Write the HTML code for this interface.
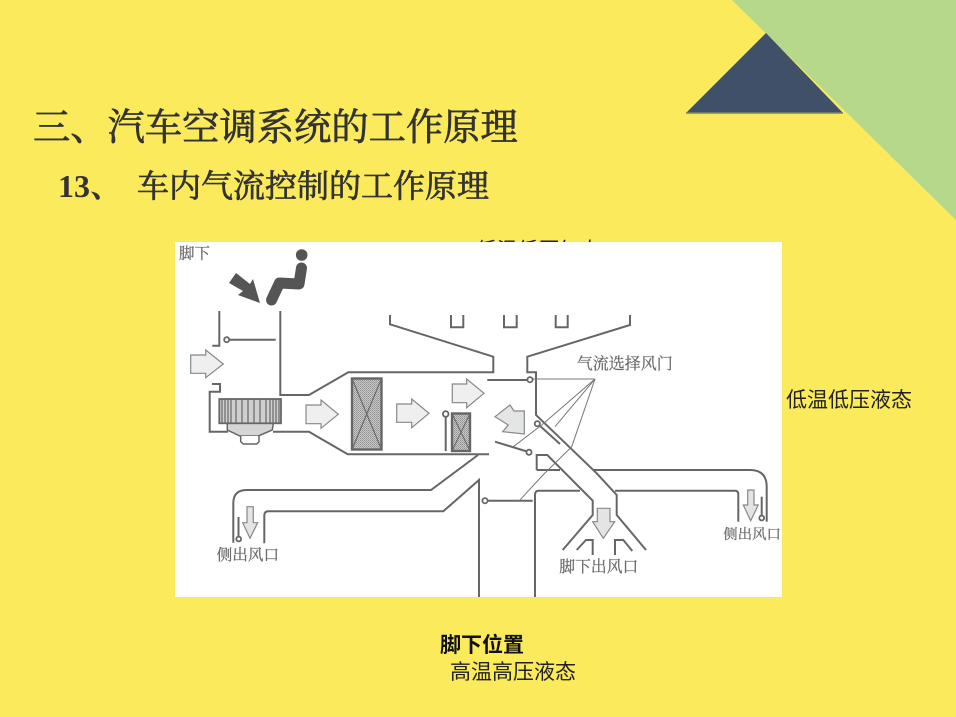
<!DOCTYPE html>
<html lang="zh">
<head>
<meta charset="utf-8">
<title>车内气流控制的工作原理</title>
<style>
html,body{margin:0;padding:0;background:#faea5c;}
#s{position:relative;width:956px;height:717px;overflow:hidden;background:#faea5c;}
svg{position:absolute;left:0;top:0;}
text{font-family:"Liberation Serif","Noto Serif CJK SC",serif;}
.t{font-weight:400;fill:#333;stroke:#333;stroke-width:.7px;}
.n{font-weight:700;fill:#333;}
.l{font-family:"Liberation Sans","Noto Sans CJK SC",sans-serif;font-size:21px;fill:#222;}
.d{font-size:16px;fill:#6a6a6a;stroke:#6a6a6a;stroke-width:.25px;}
</style>
</head>
<body>
<div id="s">
<svg width="956" height="717" viewBox="0 0 956 717" xmlns="http://www.w3.org/2000/svg">
<defs>
<pattern id="st" width="2" height="2" patternUnits="userSpaceOnUse">
<rect width="2" height="2" fill="#c8c8c8"/>
<rect width="1" height="1" fill="#929292"/>
<rect x="1" y="1" width="1" height="1" fill="#a2a2a2"/>
</pattern>
<filter id="b" x="0" y="0" width="100%" height="100%"><feGaussianBlur stdDeviation="0.35"/></filter>
</defs>
<polygon points="732,0 956,0 956,220" fill="#b5d88b"/>
<polygon points="766,33 843,113 686,113" fill="#415069"/>
<line x1="686" y1="113" x2="843" y2="113" stroke="#7d8268" stroke-width="1.4"/>

<text class="t" x="33" y="140" font-size="37.3">三、汽车空调系统的工作原理</text>
<text class="n" x="58" y="197" font-size="32">13、</text>
<text class="t" x="137" y="197" font-size="32">车内气流控制的工作原理</text>

<text class="l" x="476" y="257" style="font-size:20.7px">低温低压气态</text>
<text class="l" x="786" y="407">低温低压液态</text>
<text class="l" x="440" y="652" style="font-weight:700;fill:#111">脚下位置</text>
<text class="l" x="450" y="679">高温高压液态</text>

<rect x="175" y="242" width="607" height="355" fill="#fff"/>

<g filter="url(#b)">
<!-- duct walls -->
<g fill="none" stroke="#666" stroke-width="2">
<polyline points="219.3,311 219.3,345.7 212.3,345.7"/>
<line x1="229" y1="339.7" x2="275.7" y2="339.7"/>
<polyline points="280.3,311 280.3,395 309,395 348.3,372.3 493.3,372.3 493.3,356.7 390,324.3 390,315"/>
<polyline points="212,384 220,384 220,391.7 209.7,391.7 209.7,431.7 228,431.7"/>
<polyline points="273,431.7 309,431.7 347.7,454.3 489,454.3"/>
<path d="M478,455 L431,490 L246.7,490 Q233.3,490 233.3,503.3 L233.3,542.7"/>
<path d="M264.3,543.3 L264.3,516 Q264.3,511.3 268.3,511.3 L443.3,511.3 L479,480 L479,597"/>
<polyline points="487.3,380 527.5,380"/>
<polyline points="630,315 630,325 527.3,356.7 527.3,372.3 536,372.3 536,415 596.7,473.3 616.7,495 616.7,515 646,550"/>
<polyline points="536.7,470 536.7,455 547.3,455 592.7,500.7 592.7,515 562.7,550"/>
<line x1="536.7" y1="470" x2="560" y2="470"/>
<path d="M593.3,470 L750,470 Q766.7,470 766.7,487 L766.7,521.7"/>
<path d="M535,597 L535,495 Q535,490.7 538.3,490.7 L580,490.7"/>
<path d="M615,490.7 L735,490.7 Q738.3,490.7 738.3,494 L738.3,521.7"/>
<polyline points="576.7,550 586,540 592.7,540 592.7,555"/>
<polyline points="615,555 615,540 623.3,540 632.3,551"/>
<polyline points="451,315 451,327.3 463.3,327.3 463.3,315"/>
<polyline points="504,315 504,327.3 516.7,327.3 516.7,315"/>
<polyline points="555.7,315 555.7,327.3 567.7,327.3 567.7,315"/>
<line x1="495" y1="441.7" x2="527" y2="451.5"/>
<line x1="539" y1="425" x2="560" y2="444"/>
<line x1="487.5" y1="500.7" x2="532.7" y2="500.7"/>
<line x1="445.7" y1="417" x2="445.7" y2="451"/>
<line x1="238.5" y1="517" x2="238.5" y2="537"/>
<line x1="761.7" y1="496.7" x2="761.7" y2="516"/>
</g>
<!-- thin linkage lines -->
<g fill="none" stroke="#777" stroke-width="1">
<line x1="532" y1="379" x2="595" y2="379"/>
<polyline points="595,379 571.7,446.7 543,475 519.3,500.7"/>
<polyline points="595,379 541.7,425 513.3,446.7"/>
<polyline points="595,379 555,426.7"/>
</g>
<!-- pivots -->
<g fill="#fff" stroke="#666" stroke-width="1.8">
<circle cx="226.7" cy="339.7" r="2.5"/>
<circle cx="445.7" cy="414" r="2.8"/>
<circle cx="530" cy="379.7" r="2.6"/>
<circle cx="537.3" cy="423.7" r="2.6"/>
<circle cx="529" cy="452.3" r="2.6"/>
<circle cx="485" cy="500.7" r="2.6"/>
<circle cx="238.7" cy="539" r="2.4"/>
<circle cx="761.7" cy="518" r="2.4"/>
</g>
<!-- flow arrows -->
<g fill="#efefef" stroke="#888" stroke-width="1.2">
<polygon points="190.7,355 205.7,355 205.7,350 223.3,364 205.7,377.7 205.7,373.3 190.7,373.3"/>
<polygon points="306,405 321,405 321,400 338.3,414.3 321,428.3 321,423.7 306,423.7"/>
<polygon points="396.7,404 411.7,404 411.7,399 429,413.3 411.7,427.7 411.7,422.3 396.7,422.3"/>
<polygon points="452.3,384 466.7,384 466.7,379 484,393.3 466.7,407.7 466.7,402.7 452.3,402.7"/>
<polygon points="495,416.7 510,405 514,411 524.3,411 524.3,434 502.7,431.7 508.3,425" fill="#e4e6e6"/>
<polygon points="597.3,508.3 610,508.3 610,521.7 614.7,521.7 603.3,538.3 592.7,521.7 597.3,521.7" fill="#e4e4e4"/>
<polygon points="747.7,490 754,490 754,505 758.3,505 750.7,520.7 743.3,505 747.7,505" fill="#e4e4e4"/>
<polygon points="247,506.7 253.3,506.7 253.3,522.7 257.7,522.7 250,538.3 242.7,522.7 247,522.7" fill="#e4e4e4"/>
</g>
<!-- heaters -->
<g stroke="#666">
<rect x="352" y="378.5" width="29.5" height="71" fill="url(#st)" stroke-width="2.4"/>
<path d="M352,378.5 L381.5,449.5 M381.5,378.5 L352,449.5" fill="none" stroke-width="1.1"/>
<rect x="452" y="413.5" width="18" height="37.5" fill="url(#st)" stroke-width="2.4"/>
<path d="M452,413.5 L470,451 M470,413.5 L452,451" fill="none" stroke-width="1"/>
</g>
<!-- blower -->
<g stroke="#666">
<polygon points="227.3,423.3 227.3,430 240,436 258.3,436 272.3,430 273.3,423.3" fill="#d5d5d5" stroke-width="1.5"/>
<path d="M240.7,436 L240.7,441.7 L243.3,444 L256.7,444 L259,441.7 L259,436" fill="#fff" stroke-width="1.5"/>
<rect x="219.3" y="399" width="61.7" height="24.3" fill="#cfcfcf" stroke-width="1.8"/>
<path d="M222,399V423M225,399V423M228,399V423M231,399V423M236,399V423M242,399V423M248,399V423M254,399V423M260,399V423M266,399V423M270,399V423M273,399V423M276,399V423M279,399V423" stroke-width="1.2" fill="none"/>
</g>
<!-- passenger and pedal arrow -->
<circle cx="301.7" cy="255" r="5.8" fill="#555"/>
<path d="M301.5,268 L299,284 L279.5,283 L271.5,300" fill="none" stroke="#555" stroke-width="11" stroke-linecap="round" stroke-linejoin="round"/>
<polygon points="229,283 236,273 250,284 253,279 260,303 238,295 243,291" fill="#555"/>
<!-- scanned diagram labels -->
<text class="d" x="179" y="258.5" style="font-size:15.5px">脚下</text>
<text class="d" x="576.7" y="369">气流选择风门</text>
<text class="d" x="216.7" y="560" style="font-size:15.6px">侧出风口</text>
<text class="d" x="559.3" y="572" style="font-size:15.8px">脚下出风口</text>
<text class="d" x="723.3" y="539" style="font-size:14.4px">侧出风口</text>
</g>
</svg>
</div>
</body>
</html>
